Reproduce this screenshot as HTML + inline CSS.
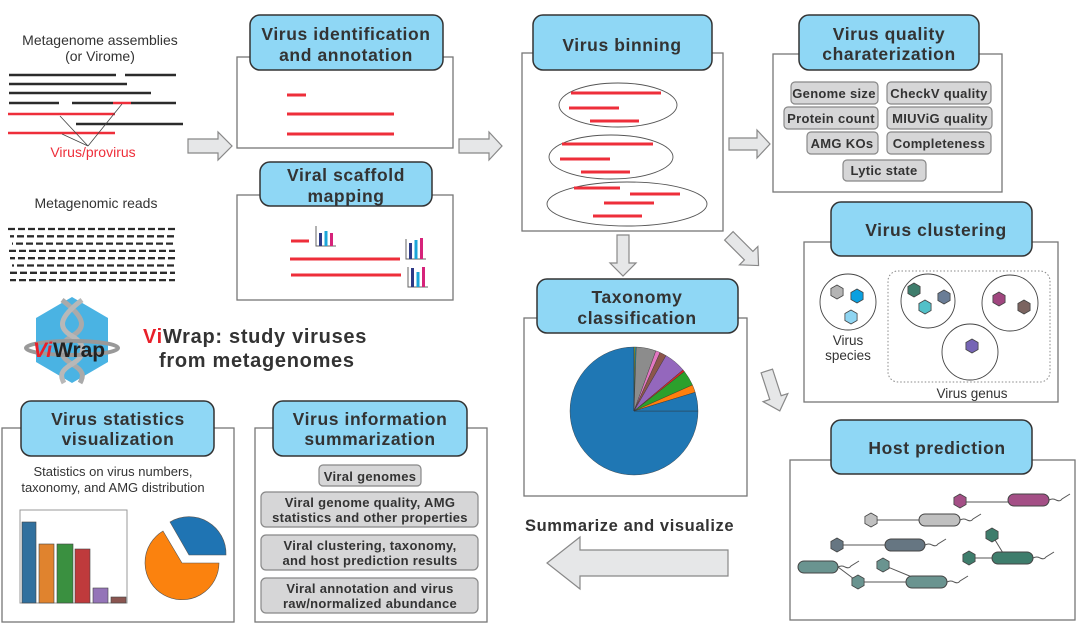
<!DOCTYPE html>
<html><head><meta charset="utf-8"><style>
html,body{margin:0;padding:0;background:#fff}
svg{display:block}
text{font-family:"Liberation Sans",sans-serif;fill:#333}
.h{font-weight:bold;font-size:17.5px;text-anchor:middle;letter-spacing:0.6px}
.p{font-weight:bold;font-size:13px;text-anchor:middle;letter-spacing:0.3px}
.n{font-size:13.5px;text-anchor:middle}
.box{fill:#fff;stroke:#777;stroke-width:1.3}
.hd{fill:#8fd7f5;stroke:#333;stroke-width:1.5}
.pill{fill:#d6d6d7;stroke:#888;stroke-width:1.2}
.ar{fill:#e6e7e8;stroke:#888;stroke-width:1.2}
.r{stroke:#ee2e3a;stroke-width:3}
.k{stroke:#2b2b2b;stroke-width:3}
</style></head><body>
<svg id="s" width="1080" height="635" viewBox="0 0 1080 635" xmlns="http://www.w3.org/2000/svg">
<text class="n" x="100" y="45" style="font-size:14px">Metagenome assemblies</text>
<text class="n" x="100" y="61" style="font-size:14px">(or Virome)</text>
<g>
<line class="k" x1="9" y1="75" x2="116" y2="75" style="stroke-width:2.5"/>
<line class="k" x1="125" y1="75" x2="176" y2="75" style="stroke-width:2.5"/>
<line class="k" x1="9" y1="84" x2="127" y2="84" style="stroke-width:2.5"/>
<line class="k" x1="9" y1="93" x2="151" y2="93" style="stroke-width:2.5"/>
<line class="k" x1="9" y1="103" x2="59" y2="103" style="stroke-width:2.5"/>
<line class="k" x1="72" y1="103" x2="113" y2="103" style="stroke-width:2.5"/>
<line class="r" x1="113" y1="103" x2="131" y2="103" style="stroke-width:2.5"/>
<line class="k" x1="131" y1="103" x2="176" y2="103" style="stroke-width:2.5"/>
<line class="r" x1="8" y1="114" x2="115" y2="114" style="stroke-width:2.5"/>
<line class="k" x1="76" y1="124" x2="183" y2="124" style="stroke-width:2.5"/>
<line class="r" x1="8" y1="133" x2="115" y2="133" style="stroke-width:2.5"/>
<path d="M60 116 L88 146 M62 134 L88 146 M122 104 L88 146" stroke="#444" stroke-width="0.8" fill="none"/>
</g>
<text class="n" x="93" y="157" style="fill:#ee2e3a;font-size:14px">Virus/provirus</text>
<text class="n" x="96" y="208" style="font-size:14px">Metagenomic reads</text>
<g id="reads" stroke="#2b2b2b" stroke-width="2.3" stroke-dasharray="7,3"></g>
<!-- logo -->
<polygon points="72,297 108,318 108,362 72,383 36,362 36,318" fill="#4ab3e3"/>
<path d="M62 300 C86 318 86 328 72 336 C58 344 58 356 72 364 C84 371 84 376 80 383" stroke="#aaa" stroke-width="5" fill="none"/>
<path d="M82 300 C58 318 58 328 72 336 C86 344 86 356 72 364 C60 371 60 376 64 383" stroke="#b8b8b8" stroke-width="5" fill="none"/>
<ellipse cx="72" cy="348" rx="46" ry="7" fill="none" stroke="#999" stroke-width="4"/>
<text x="33" y="357" style="font-weight:bold;font-size:21px;fill:#e8202a;font-style:italic">Vi</text>
<text x="53" y="357" style="font-weight:bold;font-size:21px;fill:#222">Wrap</text>
<text x="143" y="343" style="font-weight:bold;font-size:20px;letter-spacing:0.7px"><tspan style="fill:#e8202a">Vi</tspan>Wrap: study viruses</text>
<text x="159" y="367" style="font-weight:bold;font-size:20px;letter-spacing:0.7px">from metagenomes</text>

<rect class="box" x="237" y="57" width="216" height="91"/>
<rect class="hd" x="250" y="15" width="193" height="55" rx="10"/>
<text class="h" x="346" y="40">Virus identification</text>
<text class="h" x="346" y="61">and annotation</text>
<line class="r" x1="287" y1="95" x2="306" y2="95"/>
<line class="r" x1="287" y1="114" x2="394" y2="114"/>
<line class="r" x1="287" y1="134" x2="394" y2="134"/>

<rect class="box" x="237" y="195" width="216" height="105"/>
<rect class="hd" x="260" y="162" width="172" height="44" rx="10"/>
<text class="h" x="346" y="181">Viral scaffold</text>
<text class="h" x="346" y="202">mapping</text>
<line class="r" x1="291" y1="241" x2="309" y2="241"/>
<line class="r" x1="290" y1="259" x2="400" y2="259"/>
<line class="r" x1="291" y1="275" x2="401" y2="275"/>
<g id="mb"></g>

<path class="ar" d="M188 139 H218 V132 L232 146 L218 160 V153 H188 Z"/>
<path class="ar" d="M459 139 H489 V132 L502 146 L489 160 V153 H459 Z"/>
<path class="ar" d="M729 138 H757 V130 L770 144 L757 158 V150 H729 Z"/>
<path class="ar" d="M617 235 H629 V263 H636 L623 276 L610 263 H617 Z"/>
<g transform="translate(743,250) rotate(45)"><path class="ar" d="M-20 -6 H8 V-13 L22 0 L8 13 V6 H-20 Z"/></g>
<g transform="translate(773,390) rotate(72)"><path class="ar" d="M-20 -6 H8 V-13 L22 0 L8 13 V6 H-20 Z"/></g>
<path class="ar" d="M728 550 H580 V537 L547 563 L580 589 V576 H728 Z"/>
<text x="525" y="531" style="font-weight:bold;font-size:16.5px;letter-spacing:0.6px">Summarize and visualize</text>

<rect class="box" x="522" y="53" width="201" height="178"/>
<rect class="hd" x="533" y="15" width="179" height="55" rx="10"/>
<text class="h" x="622" y="51">Virus binning</text>
<g fill="none" stroke="#555" stroke-width="0.9">
<ellipse cx="618" cy="105" rx="59" ry="22"/>
<ellipse cx="611" cy="157" rx="62" ry="22"/>
<ellipse cx="627" cy="204" rx="80" ry="22"/>
</g>
<line class="r" x1="571" y1="93" x2="661" y2="93"/>
<line class="r" x1="569" y1="108" x2="619" y2="108"/>
<line class="r" x1="590" y1="121" x2="639" y2="121"/>
<line class="r" x1="562" y1="144" x2="653" y2="144"/>
<line class="r" x1="560" y1="159" x2="610" y2="159"/>
<line class="r" x1="581" y1="172" x2="630" y2="172"/>
<line class="r" x1="574" y1="188" x2="620" y2="188"/>
<line class="r" x1="630" y1="194" x2="680" y2="194"/>
<line class="r" x1="604" y1="203" x2="654" y2="203"/>
<line class="r" x1="593" y1="216" x2="642" y2="216"/>

<rect class="box" x="773" y="54" width="229" height="138"/>
<rect class="hd" x="799" y="15" width="180" height="55" rx="10"/>
<text class="h" x="889" y="40">Virus quality</text>
<text class="h" x="889" y="60">charaterization</text>
<rect class="pill" x="791" y="82" width="87" height="22" rx="4"/><text class="p" x="834" y="98">Genome size</text>
<rect class="pill" x="887" y="82" width="104" height="22" rx="4"/><text class="p" x="939" y="98">CheckV quality</text>
<rect class="pill" x="784" y="107" width="94" height="22" rx="4"/><text class="p" x="831" y="123">Protein count</text>
<rect class="pill" x="887" y="107" width="105" height="22" rx="4"/><text class="p" x="940" y="123">MIUViG quality</text>
<rect class="pill" x="807" y="132" width="71" height="22" rx="4"/><text class="p" x="842" y="148">AMG KOs</text>
<rect class="pill" x="887" y="132" width="104" height="22" rx="4"/><text class="p" x="939" y="148">Completeness</text>
<rect class="pill" x="843" y="160" width="83" height="21" rx="4"/><text class="p" x="884" y="175">Lytic state</text>

<rect class="box" x="804" y="242" width="254" height="160"/>
<rect class="hd" x="831" y="202" width="201" height="54" rx="10"/>
<text class="h" x="936" y="236">Virus clustering</text>
<rect x="888" y="271" width="162" height="111" rx="10" fill="none" stroke="#888" stroke-dasharray="1.5,2"/>
<g fill="none" stroke="#444" stroke-width="0.9">
<circle cx="848" cy="302" r="28"/><circle cx="928" cy="301" r="27"/><circle cx="1010" cy="303" r="28"/><circle cx="970" cy="352" r="28"/>
</g>
<g id="hx"></g>
<text class="n" x="848" y="345">Virus</text>
<text class="n" x="848" y="360">species</text>
<text class="n" x="972" y="398">Virus genus</text>

<rect class="box" x="790" y="460" width="285" height="160"/>
<rect class="hd" x="831" y="420" width="201" height="54" rx="10"/>
<text class="h" x="937" y="454">Host prediction</text>
<g stroke="#555" stroke-width="1" fill="none">
<path d="M960 502 H1008 M871 520 H919 M837 545 H885 M992 535 L1003 553 M969 558 H992 M838 567 L858 582 H906 M883 565 L912 577"/>
<path d="M1049 500 q4 -2 7 0 q4 2 6 -1 l8 -5 M960 520 q4 -2 7 0 q4 2 6 -1 l8 -5 M925 545 q4 -2 7 0 q4 2 6 -1 l8 -5 M1033 558 q4 -2 7 0 q4 2 6 -1 l8 -5 M838 567 q4 -2 7 0 q4 2 6 -1 l8 -5 M947 582 q4 -2 7 0 q4 2 6 -1 l8 -5"/>
</g>
<g stroke="#444" stroke-width="1">
<rect x="1008" y="494" width="41" height="12" rx="6" fill="#a44f86"/>
<rect x="919" y="514" width="41" height="12" rx="6" fill="#c0c0c0"/>
<rect x="885" y="539" width="40" height="12" rx="6" fill="#667682"/>
<rect x="992" y="552" width="41" height="12" rx="6" fill="#3e7d6c"/>
<rect x="798" y="561" width="40" height="12" rx="6" fill="#6a9490"/>
<rect x="906" y="576" width="41" height="12" rx="6" fill="#6a9490"/>
</g>
<g id="hx2"></g>

<rect class="box" x="524" y="318" width="223" height="178"/>
<rect class="hd" x="537" y="279" width="201" height="54" rx="10"/>
<text class="h" x="637" y="303">Taxonomy</text>
<text class="h" x="637" y="324">classification</text>
<g id="pie"></g>

<rect class="box" x="2" y="428" width="232" height="194"/>
<rect class="hd" x="21" y="401" width="193" height="55" rx="10"/>
<text class="h" x="118" y="425">Virus statistics</text>
<text class="h" x="118" y="445">visualization</text>
<text class="n" x="113" y="476" style="font-size:13px">Statistics on virus numbers,</text>
<text class="n" x="113" y="492" style="font-size:13px">taxonomy, and AMG distribution</text>
<rect x="20" y="510" width="107" height="93" fill="#fff" stroke="#999"/>
<g stroke="#444" stroke-width="0.6">
<rect x="22" y="522" width="14" height="81" fill="#31709e"/>
<rect x="39" y="544" width="15" height="59" fill="#e0832e"/>
<rect x="57" y="544" width="16" height="59" fill="#3a9040"/>
<rect x="75" y="549" width="15" height="54" fill="#bf3a3c"/>
<rect x="93" y="588" width="15" height="15" fill="#9474b8"/>
<rect x="111" y="597" width="15" height="6" fill="#8a5550"/>
</g>
<path d="M182 563 L163 531 A37 37 0 1 0 219 563 Z" fill="#fb820e" stroke="#555" stroke-width="0.6"/>
<path d="M189 555 L170 522 A37 37 0 0 1 226 555 Z" fill="#1f74b3" stroke="#555" stroke-width="0.6"/>

<rect class="box" x="255" y="428" width="232" height="194"/>
<rect class="hd" x="273" y="401" width="194" height="55" rx="10"/>
<text class="h" x="370" y="425">Virus information</text>
<text class="h" x="370" y="445">summarization</text>
<rect class="pill" x="319" y="465" width="102" height="21" rx="4"/><text class="p" x="370" y="481">Viral genomes</text>
<rect class="pill" x="261" y="492" width="217" height="35" rx="5"/><text class="p" x="370" y="507">Viral genome quality, AMG</text><text class="p" x="370" y="522">statistics and other properties</text>
<rect class="pill" x="261" y="535" width="217" height="35" rx="5"/><text class="p" x="370" y="550">Viral clustering, taxonomy,</text><text class="p" x="370" y="565">and host prediction results</text>
<rect class="pill" x="261" y="578" width="217" height="35" rx="5"/><text class="p" x="370" y="593">Viral annotation and virus</text><text class="p" x="370" y="608">raw/normalized abundance</text>
</svg>
<script>
var NS="http://www.w3.org/2000/svg";
function el(p,t,a){var e=document.createElementNS(NS,t);for(var k in a)e.setAttribute(k,a[k]);p.appendChild(e);return e;}
var rd=document.getElementById('reads');
for(var i=0;i<8;i++){var y=229+i*7.3;el(rd,'line',{x1:8+(i%3)*2,y1:y,x2:175,y2:y,'stroke-dashoffset':i*3});}
var mb=document.getElementById('mb');
function mini(x,y,h){el(mb,'path',{d:'M'+x+' '+(y-20)+' V'+y+' H'+(x+20),stroke:'#666',fill:'none','stroke-width':1});
 var c=['#2e3a87','#1aa6d9','#d6237a'];for(var j=0;j<3;j++){el(mb,'rect',{x:x+3+j*5.5,y:y-h[j],width:3,height:h[j],fill:c[j]});}}
mini(316,246,[13,15,13]);mini(406,259,[16,19,21]);mini(408,287,[19,15,20]);
function hex(g,cx,cy,r,f){var p=[];for(var k=0;k<6;k++){var a=Math.PI/180*(60*k-90);p.push((cx+r*Math.cos(a)).toFixed(1)+','+(cy+r*Math.sin(a)).toFixed(1));}
 el(g,'polygon',{points:p.join(' '),fill:f,stroke:'#444','stroke-width':0.8});}
var hx=document.getElementById('hx');
[[837,292,'#b4b4b4'],[857,296,'#0aa0e0'],[851,317,'#8fd5f2'],[914,290,'#3e7d6c'],[925,307,'#52c0c8'],[944,297,'#6a7d96'],[999,299,'#a0467f'],[1024,307,'#7b6460'],[972,346,'#7665b5']].forEach(function(h){hex(hx,h[0],h[1],7,h[2]);});
var hx2=document.getElementById('hx2');
[[960,501,'#a44f86'],[871,520,'#c0c0c0'],[837,545,'#667682'],[992,535,'#3e7d6c'],[969,558,'#3e7d6c'],[883,565,'#6a9490'],[858,582,'#6a9490']].forEach(function(h){hex(hx2,h[0],h[1],7,h[2]);});
var pg=document.getElementById('pie'),cx=634,cy=411,r=64;
function pt(t){var a=t*Math.PI/180;return (cx+r*Math.sin(a)).toFixed(2)+' '+(cy-r*Math.cos(a)).toFixed(2);}
var sl=[[90,360,'#1f77b4'],[0,1,'#bcbd22'],[1,2,'#17becf'],[2,20,'#8c8c8c'],[20,24,'#e377c2'],[24,30,'#8c564b'],[30,50,'#9467bd'],[50,52,'#d62728'],[52,66,'#2ca02c'],[66,73,'#ff7f0e'],[73,90,'#1f77b4']];
sl.forEach(function(s){var large=(s[1]-s[0])>180?1:0;el(pg,'path',{d:'M'+cx+' '+cy+' L'+pt(s[0])+' A'+r+' '+r+' 0 '+large+' 1 '+pt(s[1])+' Z',fill:s[2],stroke:'#333','stroke-width':0.4});});
</script>
</body></html>
